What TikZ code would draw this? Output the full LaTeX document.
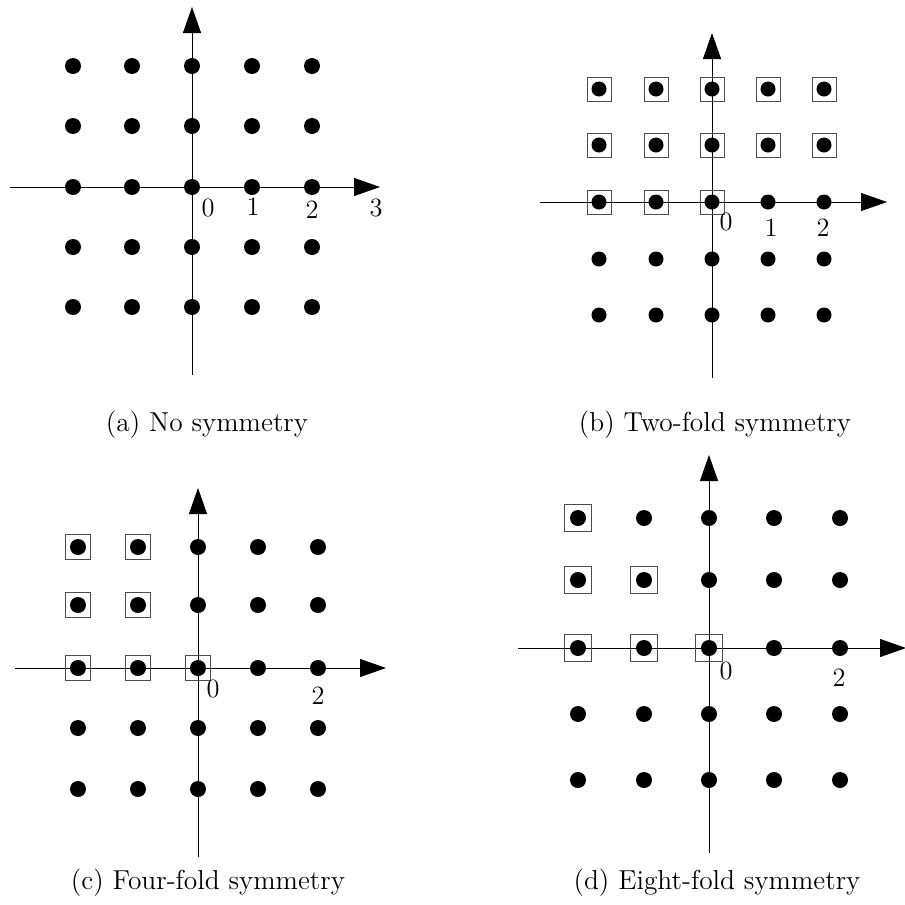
\documentclass[tikz,border=0pt]{standalone}
\usetikzlibrary{arrows.meta}
\tikzset{
  dot/.style={circle,fill=black,inner sep=0pt,minimum size=8pt},
  sqb/.style={draw=black!70,line width=0.5pt,inner sep=0pt,fill=none},
  axis/.style={line width=0.5pt,-{Triangle[length=13pt,width=9pt]}},
  lbl/.style={font=\fontsize{13.2}{16}\selectfont,inner sep=0pt},
  captext/.style={font=\fontsize{13.7}{16}\selectfont,inner sep=0pt},
}
\begin{document}
\begin{tikzpicture}[x=0.5pt,y=-0.5pt]
\useasboundingbox (0,0) rectangle (905,905);
% ---------- (a)
\coordinate (aL) at (10,187); \coordinate (aR) at (380,187);
\coordinate (aB) at (192,375); \coordinate (aT) at (192,7);
\draw[axis] (aL) -- (aR);
\draw[axis] (aB) -- (aT);
\foreach \x [count=\i] in {73,132,192,252,312}
  \foreach \y [count=\j] in {66,126,187,247,307}
    \node[dot] (a-\i-\j) at (\x,\y) {};
\node[lbl] (a0) at (208,208) {0};
\node[lbl] (a1) at (253,207) {1};
\node[lbl] (a2) at (312,210) {2};
\node[lbl] (a3) at (376,208) {3};
\node[captext] (acap) at (207,425) {(a) No symmetry};
% ---------- (b)
\coordinate (bL) at (540,202); \coordinate (bR) at (887,202);
\coordinate (bB) at (712,378); \coordinate (bT) at (712,33);
\draw[axis] (bL) -- (bR);
\draw[axis] (bB) -- (bT);
\foreach \x [count=\i] in {599,656,712,768,824}
  \foreach \y [count=\j] in {89,145,202,259,315}
    \node[dot,minimum size=7.5pt] (b-\i-\j) at (\x,\y) {};
\foreach \p in {1-1,2-1,3-1,4-1,5-1,1-2,2-2,3-2,4-2,5-2,1-3,2-3,3-3}
  \node[sqb,minimum size=12pt] (bs-\p) at (b-\p) {};
\node[lbl] (b0) at (726,222) {0};
\node[lbl] (b1) at (771,228) {1};
\node[lbl] (b2) at (823,228) {2};
\node[captext] (bcap) at (715,425) {(b) Two-fold symmetry};
% ---------- (c)
\coordinate (cL) at (15,668); \coordinate (cR) at (386,668);
\coordinate (cB) at (198,857); \coordinate (cT) at (198,488);
\draw[axis] (cL) -- (cR);
\draw[axis] (cB) -- (cT);
\foreach \x [count=\i] in {78,138,198,258,318}
  \foreach \y [count=\j] in {547,605,668,728,789}
    \node[dot] (c-\i-\j) at (\x,\y) {};
\foreach \p in {1-1,2-1,1-2,2-2,1-3,2-3,3-3}
  \node[sqb,minimum size=12.5pt] (cs-\p) at (c-\p) {};
\node[lbl] (c0) at (213,689) {0};
\node[lbl] (c2) at (318,696) {2};
\node[captext] (ccap) at (208,883) {(c) Four-fold symmetry};
% ---------- (d)
\coordinate (dL) at (518,648); \coordinate (dR) at (906,648);
\coordinate (dB) at (709,853); \coordinate (dT) at (709,455);
\draw[axis] (dL) -- (dR);
\draw[axis] (dB) -- (dT);
\foreach \x [count=\i] in {578,644,709,774,840}
  \foreach \y [count=\j] in {518,580,648,714,780}
    \node[dot] (d-\i-\j) at (\x,\y) {};
\foreach \p in {1-1,1-2,2-2,1-3,2-3,3-3}
  \node[sqb,minimum size=13.5pt] (ds-\p) at (d-\p) {};
\node[lbl] (d0) at (726,671) {0};
\node[lbl] (d2) at (839,678) {2};
\node[captext] (dcap) at (717,883) {(d) Eight-fold symmetry};
\end{tikzpicture}
\end{document}
